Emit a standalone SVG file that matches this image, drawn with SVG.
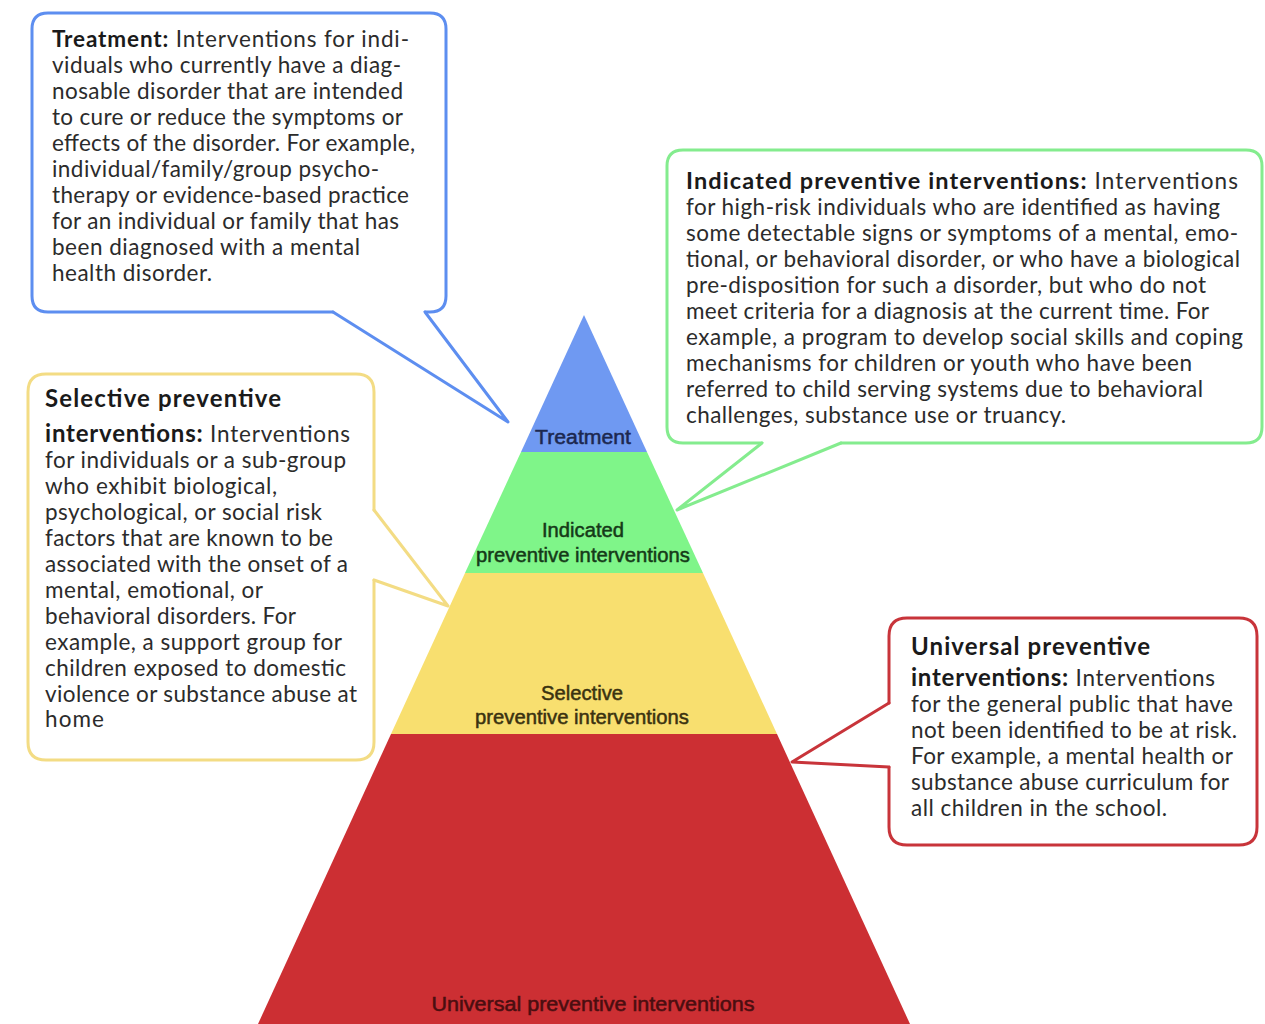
<svg xmlns="http://www.w3.org/2000/svg" width="1265" height="1024" viewBox="0 0 1265 1024">
<style>
.body{font-family:Lato,"Open Sans","Liberation Sans",sans-serif;font-size:22.5px;fill:#2b2b2b}
.b{font-weight:bold;fill:#1a1a1a}
.bt{font-weight:bold;fill:#1a1a1a;font-size:24px}
.lbl{font-family:"Liberation Sans",Arial,sans-serif;font-size:20px;text-anchor:middle;stroke-width:0.5}
.box{fill:#ffffff;stroke-width:3;stroke-linejoin:round;stroke-linecap:round}
.tail{fill:#ffffff;stroke-width:3;stroke-linejoin:round;stroke-linecap:round}
.blue{stroke:#5d8ef0}
.green{stroke:#84ec8e}
.yellow{stroke:#f3dc84}
.red{stroke:#c8343a}
</style>
<rect x="0" y="0" width="1265" height="1024" fill="#ffffff"/>

<!-- Pyramid levels -->
<g id="level-universal">
<polygon points="391,734 777,734 910,1024 258,1024" fill="#cc2f33"/>
<text class="lbl" x="593" y="1011" fill="#4a0e10" stroke="#4a0e10" textLength="323" lengthAdjust="spacingAndGlyphs">Universal preventive interventions</text>
</g>
<g id="level-selective">
<polygon points="465,573 703,573 777,734 391,734" fill="#f8df6f"/>
<text class="lbl" x="582" y="700" fill="#3a3210" stroke="#3a3210" textLength="82" lengthAdjust="spacingAndGlyphs">Selective</text>
<text class="lbl" x="582" y="724" fill="#3a3210" stroke="#3a3210" textLength="214" lengthAdjust="spacingAndGlyphs">preventive interventions</text>
</g>
<g id="level-indicated">
<polygon points="521,452 647,452 703,573 465,573" fill="#7ff589"/>
<text class="lbl" x="583" y="537" fill="#153a18" stroke="#153a18" textLength="82" lengthAdjust="spacingAndGlyphs">Indicated</text>
<text class="lbl" x="583" y="562" fill="#153a18" stroke="#153a18" textLength="214" lengthAdjust="spacingAndGlyphs">preventive interventions</text>
</g>
<g id="level-treatment">
<polygon points="584,315 647,452 521,452" fill="#6f99f2"/>
<text class="lbl" x="583" y="444" fill="#1c2850" stroke="#1c2850" textLength="96" lengthAdjust="spacingAndGlyphs">Treatment</text>
</g>

<!-- Callout boxes -->
<g id="callout-treatment">
<path class="box blue" d="M425,312 H430 Q446,312 446,296 V29 Q446,13 430,13 H48 Q32,13 32,29 V296 Q32,312 48,312 H333"/>
<text class="body" x="52" y="47" textLength="357" lengthAdjust="spacing"><tspan class="b">Treatment:</tspan> Interventions for indi-</text>
<text class="body" x="52" y="73" textLength="349" lengthAdjust="spacing">viduals who currently have a diag-</text>
<text class="body" x="52" y="99" textLength="351" lengthAdjust="spacing">nosable disorder that are intended</text>
<text class="body" x="52" y="125" textLength="351" lengthAdjust="spacing">to cure or reduce the symptoms or</text>
<text class="body" x="52" y="151" textLength="363" lengthAdjust="spacing">effects of the disorder. For example,</text>
<text class="body" x="52" y="177" textLength="327" lengthAdjust="spacing">individual/family/group psycho-</text>
<text class="body" x="52" y="203" textLength="357" lengthAdjust="spacing">therapy or evidence-based practice</text>
<text class="body" x="52" y="229" textLength="347" lengthAdjust="spacing">for an individual or family that has</text>
<text class="body" x="52" y="255" textLength="308" lengthAdjust="spacing">been diagnosed with a mental</text>
<text class="body" x="52" y="281" textLength="160" lengthAdjust="spacing">health disorder.</text>
</g>

<g id="callout-indicated">
<path class="box green" d="M762,443 H683 Q667,443 667,427 V166 Q667,150 683,150 H1246 Q1262,150 1262,166 V427 Q1262,443 1246,443 H841"/>
<text class="body" x="686" y="189" textLength="552" lengthAdjust="spacing"><tspan class="b" style="font-size:23.5px">Indicated preventive interventions:</tspan> Interventions</text>
<text class="body" x="686" y="215" textLength="534" lengthAdjust="spacing">for high-risk individuals who are identified as having</text>
<text class="body" x="686" y="241" textLength="552" lengthAdjust="spacing">some detectable signs or symptoms of a mental, emo-</text>
<text class="body" x="686" y="267" textLength="554" lengthAdjust="spacing">tional, or behavioral disorder, or who have a biological</text>
<text class="body" x="686" y="293" textLength="520" lengthAdjust="spacing">pre-disposition for such a disorder, but who do not</text>
<text class="body" x="686" y="319" textLength="523" lengthAdjust="spacing">meet criteria for a diagnosis at the current time. For</text>
<text class="body" x="686" y="345" textLength="557" lengthAdjust="spacing">example, a program to develop social skills and coping</text>
<text class="body" x="686" y="371" textLength="506" lengthAdjust="spacing">mechanisms for children or youth who have been</text>
<text class="body" x="686" y="397" textLength="517" lengthAdjust="spacing">referred to child serving systems due to behavioral</text>
<text class="body" x="686" y="423" textLength="380" lengthAdjust="spacing">challenges, substance use or truancy.</text>
</g>

<g id="callout-selective">
<path class="box yellow" d="M374,580 V742 Q374,760 356,760 H46 Q28,760 28,742 V392 Q28,374 46,374 H356 Q374,374 374,392 V510"/>
<text class="body" x="45" y="407" textLength="236" lengthAdjust="spacing"><tspan class="bt">Selective preventive</tspan></text>
<text class="body" x="45" y="442" textLength="305" lengthAdjust="spacing"><tspan class="bt">interventions:</tspan> Interventions</text>
<text class="body" x="45" y="468" textLength="301" lengthAdjust="spacing">for individuals or a sub-group</text>
<text class="body" x="45" y="494" textLength="232" lengthAdjust="spacing">who exhibit biological,</text>
<text class="body" x="45" y="520" textLength="277" lengthAdjust="spacing">psychological, or social risk</text>
<text class="body" x="45" y="546" textLength="288" lengthAdjust="spacing">factors that are known to be</text>
<text class="body" x="45" y="572" textLength="303" lengthAdjust="spacing">associated with the onset of a</text>
<text class="body" x="45" y="598" textLength="218" lengthAdjust="spacing">mental, emotional, or</text>
<text class="body" x="45" y="624" textLength="251" lengthAdjust="spacing">behavioral disorders. For</text>
<text class="body" x="45" y="650" textLength="297" lengthAdjust="spacing">example, a support group for</text>
<text class="body" x="45" y="676" textLength="301" lengthAdjust="spacing">children exposed to domestic</text>
<text class="body" x="45" y="702" textLength="312" lengthAdjust="spacing">violence or substance abuse at</text>
<text class="body" x="45" y="727" textLength="59" lengthAdjust="spacing">home</text>
</g>

<g id="callout-universal">
<path class="box red" d="M889,703 V636 Q889,618 907,618 H1239 Q1257,618 1257,636 V827 Q1257,845 1239,845 H907 Q889,845 889,827 V767"/>
<text class="body" x="911" y="655" textLength="239" lengthAdjust="spacing"><tspan class="bt">Universal preventive</tspan></text>
<text class="body" x="911" y="686" textLength="304" lengthAdjust="spacing"><tspan class="bt">interventions:</tspan> Interventions</text>
<text class="body" x="911" y="712" textLength="322" lengthAdjust="spacing">for the general public that have</text>
<text class="body" x="911" y="738" textLength="326" lengthAdjust="spacing">not been identified to be at risk.</text>
<text class="body" x="911" y="764" textLength="322" lengthAdjust="spacing">For example, a mental health or</text>
<text class="body" x="911" y="790" textLength="318" lengthAdjust="spacing">substance abuse curriculum for</text>
<text class="body" x="911" y="816" textLength="256" lengthAdjust="spacing">all children in the school.</text>
</g>

<!-- Connectors: callout pointers -->
<g id="connectors">
<polyline class="tail blue" points="333,312 508,422 425,312"/>
<polyline class="tail green" points="841,443 677,510 762,443"/>
<polyline class="tail yellow" points="374,510 448,606 374,580"/>
<polyline class="tail red" points="889,767 792,762 889,703"/>
</g>
</svg>
